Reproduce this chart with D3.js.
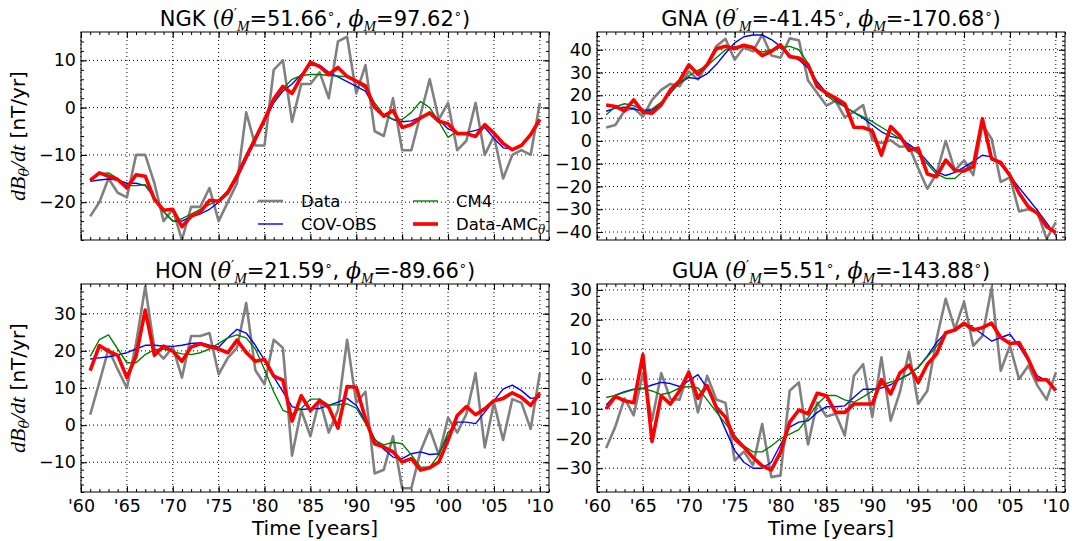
<!DOCTYPE html>
<html>
<head>
<meta charset="utf-8">
<script src="https://cdn.jsdelivr.net/npm/d3@7"></script>
<style>
  body { margin: 0; background: #fff; }
  svg { display: block; }
  text { font-family: "DejaVu Sans", sans-serif; fill: #000; }
  .math { font-family: "Liberation Serif", "DejaVu Serif", serif; font-style: italic; }
  .greek { font-family: "DejaVu Serif", serif; font-style: italic; }
</style>
</head>
<body>
<div id="content"></div>
<script>
// annual series 1961-2010, CM4 stops in 2001
const years = d3.range(1961, 2011);
const xTicks = [1960, 1965, 1970, 1975, 1980, 1985, 1990, 1995, 2000, 2005, 2010];
const xTickLabels = ["'60", "'65", "'70", "'75", "'80", "'85", "'90", "'95", "'00", "'05", "'10"];

// NGK
const ngkData = [-23, -20, -15, -18, -19, -10, -10, -16, -24, -21.5, -28, -21, -21, -17, -24, -20, -16, -1, -8, -8,
  8, 10, -3, 5, 5, 7.5, 2, 14, 15, 3, 9, -5, -6, 2, -9, -9, -1.5, 6, -2.5, 1,
  -9, -7, 1, -10, -6, -15, -10, -9, -10, 1];
const ngkCovobs = [-15.6, -15.3, -15.1, -15.3, -16, -16, -16.5, -19, -22, -24, -24, -23, -22.5, -21.5, -20, -18, -15, -11, -7, -3,
  1, 3.5, 5, 7, 9, 9, 7.5, 6.5, 5.5, 4.5, 3.5, 0, -1.5, -2.5, -3, -2.8, -2, -1.3, -2.5, -4.5,
  -5.3, -5.3, -4.8, -4.2, -6.5, -8.5, -8.8, -8, -5.5, -2.5];
const ngkCm4 = [-15.5, -14, -13.8, -15, -16.5, -16.5, -16.3, -19, -22, -24, -23.5, -22.5, -21.5, -20.5, -19.5, -17.5, -14, -10, -6, -2.5,
  1.5, 4, 6, 6.8, 7, 7, 6.8, 6.7, 6.5, 5.5, 4, 1, -1.5, -2.5, -2.5, -1, 1.3, 0, -3, -6.3, -5];
const ngkAmc = [-15.4, -13.8, -14.5, -15.2, -17, -14.2, -14.5, -19.4, -21.7, -21.5, -25.2, -23, -22.1, -19.6, -19.8, -18, -14.5, -10.4, -6.6, -2.5,
  1.8, 4.5, 3, 6.5, 9.6, 8.7, 7, 8.5, 6.6, 5.6, 4.6, 0.1, -1.8, -0.6, -4.2, -3.6, -2.2, -1.1, -2.9, -3.4,
  -5.5, -5.5, -6.1, -3.6, -5.4, -7.6, -8.9, -8, -5.7, -2.5];
const ngkYTicks = [-20, -10, 0, 10];

// GNA
const gnaData = [5.9, 7, 13.2, 14.4, 10.7, 18, 22.4, 25, 24, 30.5, 27, 33.4, 41.5, 44.8, 35.6, 41, 39.3, 46.6, 37.5, 36.5,
  45, 44.2, 26.5, 21, 15.5, 17.6, 10.3, 12.8, 15.7, 0.3, -0.9, 0.3, -2.6, -2.3, -12, -21, -14.4, 0, -12.9, -8.5,
  -15, 7, 1, -18, -16, -31, -30, -31.5, -43, -35.7];
const gnaCovobs = [13, 14.4, 14.8, 14, 13.2, 13.5, 16.5, 21, 25.5, 27.8, 27.2, 29.5, 33.5, 38.5, 43, 45.7, 46.5, 46.5, 44.5, 41.5,
  37.8, 35.5, 32, 26, 21, 18, 15, 12.5, 10, 7, 4, 2, 1, -1.5, -4.5, -9, -13.5, -15.2, -13.8, -11.5,
  -9, -6.3, -7, -10.5, -15.5, -20.5, -25.5, -30.5, -36, -41.5];
const gnaCm4 = [11.5, 15, 16.3, 15.5, 13.5, 14, 17, 21.5, 25.5, 28.5, 31, 33, 36.5, 40, 41.5, 41.5, 40.5, 39, 40, 41,
  41.5, 40, 34, 25, 20, 17, 15, 12.5, 10.5, 8.5, 6, 3.5, 1, -2.5, -5.5, -10, -14.5, -16.5, -16.5, -13, -9.5];
const gnaAmc = [15.8, 15.1, 13.2, 18, 12.6, 12.2, 15.8, 22.4, 26.4, 33.4, 29.3, 33.4, 40.5, 41.5, 40.5, 42, 41, 37.4, 39.3, 42.2,
  37, 36.4, 33.4, 23.9, 21, 18.8, 16.3, 6, 5.9, 4.4, -6.2, 6.3, 2.3, -4.1, -3.2, -14.5, -15.7, -8.4, -13, -13.2,
  -11.3, 9.7, -7.9, -9.5, -15.2, -23, -28.9, -31.8, -37.7, -40.2];
const gnaYTicks = [-40, -30, -20, -10, 0, 10, 20, 30, 40];

// HON
const honData = [2.8, 11.5, 20.5, 15, 10, 22, 37.3, 20.5, 17.9, 21, 12.8, 24, 24, 24.8, 13.7, 18.1, 20.8, 32.9, 14.8, 11,
  23, 20.8, -8.2, 4, -3, 7, -2, 4, 23, 6, 9, -13, -12, -3, -17, -17, -7, -1, -8, 2,
  -2, 3, 14, -6, 6, -4, 7, 6, -1, 14];
const honCovobs = [17.8, 18.1, 18.4, 18.9, 19.5, 20.5, 21.5, 21.5, 21.3, 21.2, 21.5, 22, 22.2, 21.5, 21, 23.5, 25.8, 24.8, 21.5, 17.5,
  13, 9, 5, 4.2, 4.4, 4.5, 5.3, 6.2, 7.2, 5.3, 1, -3.7, -6.5, -8.6, -9, -7.7, -7.2, -7.9, -7.7, -3,
  0.8, 0.8, 0.4, 3.5, 6.6, 9.7, 10.8, 9.3, 7.2, 7.5];
const honCm4 = [18.5, 23, 24.3, 20.5, 16.8, 16.8, 19, 20.3, 20.5, 19.8, 19.2, 19, 19.5, 20.5, 22, 23.5, 24.3, 23.5, 20.5, 15,
  9, 4, 3, 4.5, 7, 7, 5.4, 5.5, 5.7, 4.6, 0.5, -4, -5.3, -4.6, -5, -8, -11.3, -11.3, -8, -1.9, 0.5];
const honAmc = [14.7, 21.4, 19.9, 18.8, 12.8, 18.6, 31, 18.8, 21.3, 19.9, 17.2, 21, 21.9, 21.1, 20.5, 19.5, 22.9, 19.6, 17.2, 17.7,
  13.2, 12.1, 1.1, 7.9, 3.9, 6.6, 4.8, -0.8, 10.4, 10.2, 1.7, -5, -5.9, -7.2, -9.9, -9, -12.1, -11.5, -9.9, -4.1,
  2.6, 5, 2.8, 4.4, 6.6, 7.2, 8.7, 7.5, 5.3, 8.6];
const honYTicks = [-10, 0, 10, 20, 30];

// GUA
const guaData = [-23.2, -16, -6.5, -12.2, 2, -14, 2, -6.7, -6.9, 2.8, -11.2, 1.1, -6.9, -8, -27.4, -24.4, -29, -15.1, -33, -32.4,
  -3.9, -1.1, -22, -7.9, -12.6, -11.7, -19, 1.1, 5, -12.8, 7.3, -14, -4.5, 9.2, -8.4, -3.9, 13.4, 27, 16.8, 26,
  11.2, 14.5, 30.7, 2.8, 11.2, 0, 4.5, -2.2, -6.9, 2.2];
const guaCovobs = [-8.7, -5.4, -4.2, -3.4, -3.1, -2, -1.1, -1.5, -2.5, -0.5, 1.5, -3, -10, -17, -24, -28, -30, -30, -28, -22,
  -16.2, -14.5, -14, -11.2, -9.3, -9.3, -9, -6.1, -3.4, -3.4, -3, -1.9, 0, 1.7, 3.9, 7.8, 12.3, 15.6, 16.8, 18.4,
  17.3, 15.1, 12.8, 14, 15.1, 11, 6.1, 1.1, -0.6, -3.4];
const guaCm4 = [-6.2, -5.5, -4.5, -3.5, -3.2, -4, -5.2, -4.5, -3, -2.5, -3, -7, -11, -15, -19, -22.5, -24.5, -24.5, -22.5, -20,
  -18.5, -17, -13, -8.5, -5.5, -5.5, -7, -7.8, -6, -4, -2, -1, 0, 1.5, 4, 7.5, 11, 15, 17, 18, 18];
const guaAmc = [-10, -5.8, -7.3, -8, 8.2, -21, -5.6, -8.4, -3.9, 2.2, -6.5, -2.2, -9.5, -12.8, -20.1, -22.9, -26.4, -29.2, -30.6, -24.6,
  -14.5, -10.4, -11.7, -4.8, -5.6, -11.2, -11.2, -8.4, -8.4, -8.4, -0.2, -5, 2, 4.7, -1.1, 5, 8.4, 15.6, 16.5, 18.8,
  16.5, 17.3, 18.8, 14, 12, 12.3, 6.7, -0.2, -0.2, -3.9];
const guaYTicks = [-30, -20, -10, 0, 10, 20, 30];

const seriesStyle = [
  { key: 'data', label: 'Data', color: '#808080', width: 2.6 },
  { key: 'covobs', label: 'COV-OBS', color: '#0000ff', width: 1.4 },
  { key: 'cm4', label: 'CM4', color: '#008000', width: 1.4 },
  { key: 'amc', label: 'Data-AMC', color: '#ff0000', width: 3.6 }
];

const panels = [
  { name: 'NGK', theta: '51.66', phi: '97.62', x0: 81, y0: 32, yDomain: [-28, 16], yTicks: ngkYTicks,
    data: ngkData, covobs: ngkCovobs, cm4: ngkCm4, amc: ngkAmc, xLabels: false, yLabel: true, legend: true },
  { name: 'GNA', theta: '-41.45', phi: '-170.68', x0: 597, y0: 32, yDomain: [-43.5, 47.8], yTicks: gnaYTicks,
    data: gnaData, covobs: gnaCovobs, cm4: gnaCm4, amc: gnaAmc, xLabels: false, yLabel: false },
  { name: 'HON', theta: '21.59', phi: '-89.66', x0: 81, y0: 284, yDomain: [-18, 38], yTicks: honYTicks,
    data: honData, covobs: honCovobs, cm4: honCm4, amc: honAmc, xLabels: true, yLabel: true },
  { name: 'GUA', theta: '5.51', phi: '-143.88', x0: 597, y0: 284, yDomain: [-38, 32], yTicks: guaYTicks,
    data: guaData, covobs: guaCovobs, cm4: guaCm4, amc: guaAmc, xLabels: true, yLabel: false }
];

const width = 1073, height = 541;
const W = 468, H = 208;

const svg = d3.select('#content').append('svg')
  .attr('width', width).attr('height', height)
  .attr('viewBox', [0, 0, width, height])
  .style('background', '#fff');

function drawPanel (p, idx) {
  const g = svg.append('g').attr('transform', `translate(${p.x0},${p.y0})`);
  const x = d3.scaleLinear().domain([1960, 2011]).range([0, W]);
  const y = d3.scaleLinear().domain(p.yDomain).range([H, 0]);

  // dotted grid on the major ticks
  const grid = g.append('g').attr('stroke', '#000').attr('stroke-width', 1).attr('stroke-dasharray', '1,3');
  grid.selectAll('.gx').data(xTicks).join('line')
    .attr('x1', d => x(d)).attr('x2', d => x(d)).attr('y1', 0).attr('y2', H);
  grid.selectAll('.gy').data(p.yTicks).join('line')
    .attr('x1', 0).attr('x2', W).attr('y1', d => y(d)).attr('y2', d => y(d));

  // series, clipped to the axes box
  const clipId = 'clip' + idx;
  g.append('clipPath').attr('id', clipId).append('rect').attr('width', W).attr('height', H);
  const lines = g.append('g').attr('clip-path', `url(#${clipId})`);
  const line = d3.line().x((d, i) => x(years[i])).y(d => y(d));
  seriesStyle.forEach(s => {
    lines.append('path').attr('d', line(p[s.key]))
      .attr('fill', 'none').attr('stroke', s.color).attr('stroke-width', s.width)
      .attr('stroke-linejoin', 'round');
  });

  // axes: ticks point inward on all four sides
  const minorX = d3.range(1960, 2012);
  const minorY = d3.range(Math.ceil(p.yDomain[0] / 2) * 2, p.yDomain[1], 2);
  const fmtX = (d, i) => p.xLabels ? xTickLabels[i] : '';

  const ax = (axis, tx, ty) => {
    const a = g.append('g').attr('transform', `translate(${tx},${ty})`).call(axis);
    a.select('.domain').remove();
    a.selectAll('line').attr('stroke', '#000');
    a.selectAll('text').attr('font-size', 17.5).attr('font-family', '"DejaVu Sans", sans-serif');
    return a;
  };
  ax(d3.axisBottom(x).tickValues(xTicks).tickSize(-6).tickPadding(8).tickFormat(fmtX), 0, H);
  ax(d3.axisBottom(x).tickValues(minorX).tickSize(-3).tickFormat(''), 0, H);
  ax(d3.axisTop(x).tickValues(xTicks).tickSize(-6).tickFormat(''), 0, 0);
  ax(d3.axisTop(x).tickValues(minorX).tickSize(-3).tickFormat(''), 0, 0);
  ax(d3.axisLeft(y).tickValues(p.yTicks).tickSize(-6).tickPadding(5), 0, 0);
  ax(d3.axisLeft(y).tickValues(minorY).tickSize(-3).tickFormat(''), 0, 0);
  ax(d3.axisRight(y).tickValues(p.yTicks).tickSize(-6).tickFormat(''), W, 0);
  ax(d3.axisRight(y).tickValues(minorY).tickSize(-3).tickFormat(''), W, 0);

  g.append('rect').attr('width', W).attr('height', H)
    .attr('fill', 'none').attr('stroke', '#000').attr('stroke-width', 1);

  // title
  const t = g.append('text').attr('x', W / 2).attr('y', -6)
    .attr('text-anchor', 'middle').attr('font-size', 21);
  t.append('tspan').text(`${p.name} (`);
  t.append('tspan').attr('class', 'greek').attr('font-size', 22).text('θ');
  t.append('tspan').attr('font-size', 14).attr('dy', -8).text('′');
  t.append('tspan').attr('class', 'math').attr('font-size', 15).attr('dy', 13).text('M');
  t.append('tspan').attr('dy', -5).text(`=${p.theta}`);
  t.append('tspan').attr('font-size', 13).attr('dy', -8).text('∘');
  t.append('tspan').attr('dy', 8).text(', ');
  t.append('tspan').attr('class', 'greek').attr('font-size', 22).text('ϕ');
  t.append('tspan').attr('class', 'math').attr('font-size', 15).attr('dy', 5).text('M');
  t.append('tspan').attr('dy', -5).text(`=${p.phi}`);
  t.append('tspan').attr('font-size', 13).attr('dy', -8).text('∘');
  t.append('tspan').attr('dy', 8).text(')');

  if (p.yLabel) {
    const yl = g.append('text').attr('transform', `translate(-56,${H / 2}) rotate(-90)`)
      .attr('text-anchor', 'middle').attr('font-size', 20);
    yl.append('tspan').attr('class', 'math').attr('font-size', 22).text('dB');
    yl.append('tspan').attr('class', 'greek').attr('font-size', 14).attr('dy', 4).text('θ');
    yl.append('tspan').attr('class', 'math').attr('font-size', 22).attr('font-style', 'normal').attr('dy', -4).text('/');
    yl.append('tspan').attr('class', 'math').attr('font-size', 22).text('dt');
    yl.append('tspan').text(' [nT/yr]');
  }

  if (p.xLabels) {
    g.append('text').attr('x', W / 2).attr('y', H + 43)
      .attr('text-anchor', 'middle').attr('font-size', 20).text('Time [years]');
  }

  if (p.legend) {
    const cols = [[0, 1], [2, 3]];
    const colX = [177, 332];
    const rowY = [169, 192];
    cols.forEach((c, ci) => c.forEach((si, ri) => {
      const s = seriesStyle[si];
      g.append('line').attr('x1', colX[ci]).attr('x2', colX[ci] + 25)
        .attr('y1', rowY[ri]).attr('y2', rowY[ri])
        .attr('stroke', s.color).attr('stroke-width', s.width);
      const lt = g.append('text').attr('x', colX[ci] + 43).attr('y', rowY[ri] + 6).attr('font-size', 16.5);
      lt.append('tspan').text(s.label);
      if (s.key === 'amc') {
        lt.append('tspan').attr('class', 'greek').attr('font-size', 12).attr('dy', 4).text('θ');
      }
    }));
  }
}

panels.forEach(drawPanel);
</script>
</body>
</html>
